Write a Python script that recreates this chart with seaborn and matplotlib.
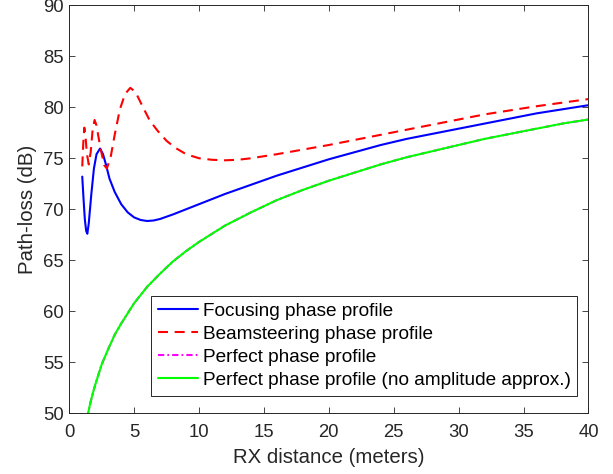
import matplotlib
matplotlib.use("Agg")
import matplotlib.pyplot as plt
import seaborn as sns
import pandas as pd

# ---- data ----
focus_x = [1.0, 1.1, 1.2, 1.3, 1.39, 1.5, 1.7, 1.9, 2.1, 2.37, 2.6, 2.8, 3.1, 3.5, 4.0, 4.5, 5.0,
           5.5, 6.0, 6.5, 7.0, 8.0, 9.0, 10.0, 11.0, 12.0, 14.0, 16.0, 18.0, 20.0, 22.0, 24.0,
           26.0, 28.0, 30.0, 32.0, 34.0, 36.0, 38.0, 40.0]
focus_y = [73.2, 71.0, 69.0, 67.9, 67.6, 68.6, 71.5, 74.0, 75.4, 75.95, 75.4, 74.5, 73.0, 71.7,
           70.5, 69.7, 69.2, 68.95, 68.85, 68.9, 69.05, 69.5, 70.0, 70.5, 71.0, 71.5, 72.4,
           73.3, 74.1, 74.9, 75.6, 76.3, 76.9, 77.4, 77.9, 78.4, 78.9, 79.4, 79.8, 80.2]

beam_x = [1.0, 1.08, 1.16, 1.25, 1.35, 1.5, 1.65, 1.8, 1.95, 2.1, 2.4, 2.7, 2.9, 3.2, 3.5, 3.9,
          4.3, 4.7, 5.1, 5.6, 6.2, 6.8, 7.5, 8.2, 9.0, 10.0, 11.0, 12.0, 13.0, 14.0, 16.0, 18.0,
          20.0, 22.0, 24.0, 26.0, 28.0, 30.0, 32.0, 34.0, 36.0, 38.0, 40.0]
beam_y = [74.2, 76.5, 78.0, 77.2, 75.5, 74.4, 75.6, 77.8, 78.75, 78.2, 76.0, 74.3, 74.0, 75.2,
          77.3, 79.8, 81.3, 81.9, 81.5, 80.2, 78.7, 77.7, 76.7, 76.0, 75.4, 75.0, 74.85, 74.8,
          74.85, 75.0, 75.4, 75.85, 76.3, 76.8, 77.3, 77.8, 78.3, 78.8, 79.3, 79.7, 80.1, 80.45,
          80.8]

perf_x = [1.0, 1.2, 1.45, 1.6, 1.8, 2.0, 2.5, 3.0, 3.5, 4.0, 5.0, 6.0, 7.0, 8.0, 9.0, 10.0,
          12.0, 14.0, 16.0, 18.0, 20.0, 22.0, 24.0, 26.0, 28.0, 30.0, 32.0, 34.0, 36.0, 38.0, 40.0]
perf_y = [46.8, 48.4, 50.0, 50.9, 51.9, 52.8, 54.8, 56.3, 57.7, 58.8, 60.8, 62.4, 63.7, 64.9,
          65.9, 66.8, 68.4, 69.7, 70.9, 71.9, 72.8, 73.6, 74.4, 75.1, 75.7, 76.3, 76.9, 77.4,
          77.9, 78.4, 78.8]
perf_noamp_y = [46.8, 48.4, 50.0, 50.9, 51.9, 52.8, 54.8, 56.3, 57.7, 58.8, 60.8, 62.4, 63.7,
                64.9, 65.9, 66.8, 68.4, 69.7, 70.9, 71.9, 72.8, 73.6, 74.4, 75.1, 75.7, 76.3,
                76.9, 77.4, 77.9, 78.4, 78.8]

labels = ["Focusing phase profile", "Beamsteering phase profile",
          "Perfect phase profile", "Perfect phase profile (no amplitude approx.)"]
x_ticks = [0, 5, 10, 15, 20, 25, 30, 35, 40]
y_ticks = [50, 55, 60, 65, 70, 75, 80, 85, 90]

# ---- style ----
sns.set_style("ticks")
plt.rcParams['font.family'] = ['Liberation Sans', 'DejaVu Sans']
ax_color = '#262626'

fig = plt.figure(figsize=(6.13, 4.74), dpi=100)
ax = fig.add_axes([0.113, 0.128, 0.847, 0.861])

df_f = pd.DataFrame({"x": focus_x, "y": focus_y})
df_b = pd.DataFrame({"x": beam_x, "y": beam_y})
df_p = pd.DataFrame({"x": perf_x, "y": perf_y})
df_g = pd.DataFrame({"x": perf_x, "y": perf_noamp_y})

sns.lineplot(data=df_f, x="x", y="y", ax=ax, color=(0, 0, 1), linewidth=1.5,
             label=labels[0], sort=False)
sns.lineplot(data=df_b, x="x", y="y", ax=ax, color=(1, 0, 0), linewidth=1.5,
             label=labels[1], sort=False)
ax.lines[-1].set_dashes([4.8, 3.2])
sns.lineplot(data=df_p, x="x", y="y", ax=ax, color=(1, 0, 1), linewidth=1.5,
             label=labels[2], sort=False)
ax.lines[-1].set_dashes([3.0, 1.5, 0.8, 1.5])
sns.lineplot(data=df_g, x="x", y="y", ax=ax, color=(0, 1, 0), linewidth=1.5,
             label=labels[3], sort=False)

ax.set_xlim(0, 40)
ax.set_ylim(50, 90)
ax.set_xticks(x_ticks)
ax.set_yticks(y_ticks)
ax.set_xlabel("RX distance (meters)", fontsize=14.7, color=ax_color, labelpad=5)
ax.set_ylabel("Path-loss (dB)", fontsize=14.7, color=ax_color, labelpad=4)
ax.tick_params(direction='in', length=4, width=0.6, colors=ax_color, labelsize=13.3,
               top=True, right=True)
ax.tick_params(axis='x', pad=8)
ax.tick_params(axis='y', pad=4)
for s in ax.spines.values():
    s.set_visible(True)
    s.set_color(ax_color)
    s.set_linewidth(0.7)

leg = ax.legend(loc='lower right', bbox_to_anchor=(0.978, 0.043), borderaxespad=0,
                fontsize=13.7, frameon=True, fancybox=False, handlelength=2.1,
                handletextpad=0.25, labelspacing=0.3, borderpad=0.35)
leg.get_frame().set_edgecolor(ax_color)
leg.get_frame().set_linewidth(0.7)
leg.get_frame().set_alpha(1)
for t in leg.get_texts():
    t.set_color('black')

fig.savefig("out.png", dpi=100)
